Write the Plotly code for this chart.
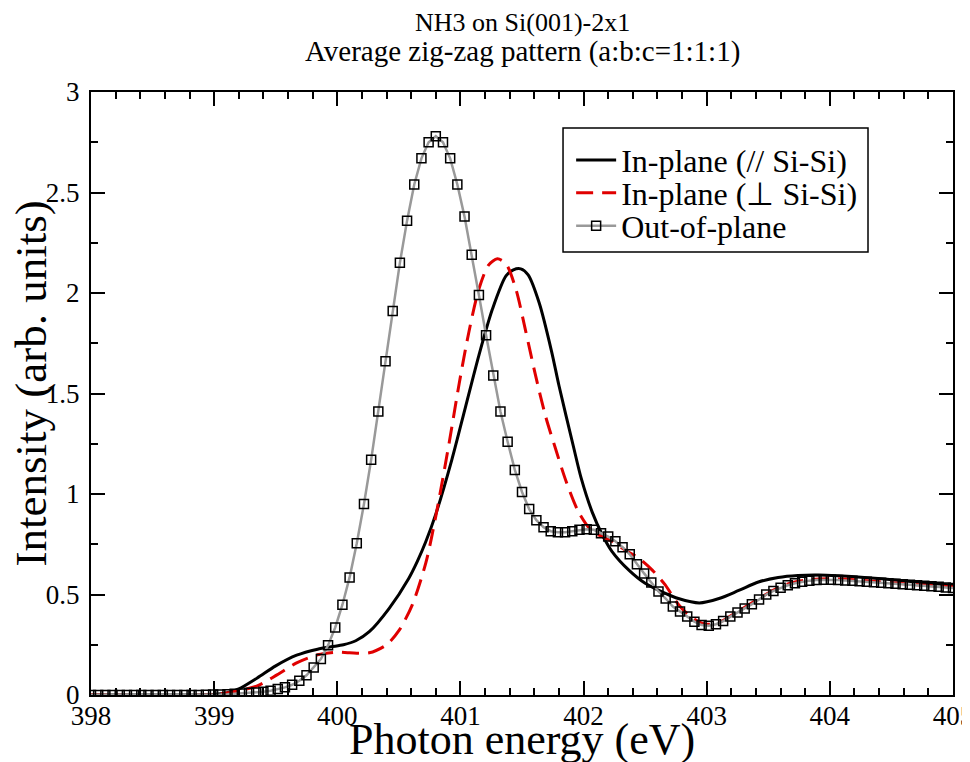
import numpy as np
import plotly.graph_objects as go

# ── Data ───────────────────────────────────────────────────────────────────
# out-of-plane spectrum: sampled on a 7/120 eV grid from 398 to 405 eV
OOP_ENERGY = np.round(np.linspace(398.0, 405.0, 121), 4)
OOP_INTENSITY = [
    0.0, 0.0, 0.0, 0.0, 0.0, 0.0, 0.0, 0.0, 0.0, 0.0,
    0.0, 0.0, 0.0, 0.0, 0.0, 0.0, 0.001, 0.002, 0.003, 0.004,
    0.006, 0.008, 0.011, 0.013, 0.016, 0.021, 0.030, 0.038, 0.051, 0.071,
    0.098, 0.137, 0.179, 0.247, 0.336, 0.449, 0.585, 0.755, 0.95, 1.17,
    1.41, 1.66, 1.91, 2.15, 2.36, 2.54, 2.67, 2.75, 2.78, 2.75,
    2.67, 2.54, 2.38, 2.19, 1.99, 1.79, 1.59, 1.41, 1.26, 1.12,
    1.01, 0.925, 0.87, 0.835, 0.815, 0.81, 0.81, 0.815, 0.822, 0.825,
    0.822, 0.805, 0.788, 0.765, 0.735, 0.70, 0.65, 0.605, 0.56, 0.515,
    0.48, 0.44, 0.415, 0.39, 0.365, 0.348, 0.345, 0.352, 0.368, 0.39,
    0.41, 0.43, 0.452, 0.475, 0.50, 0.518, 0.533, 0.546, 0.556, 0.564,
    0.569, 0.572, 0.573, 0.573, 0.572, 0.570, 0.568, 0.566, 0.563, 0.561,
    0.558, 0.556, 0.553, 0.551, 0.548, 0.546, 0.543, 0.541, 0.538, 0.535,
    0.532,
]

PAR_ENERGY = [
    398.0, 398.5, 399.0, 399.1, 399.2, 399.35, 399.5, 399.67, 399.84, 399.95,
    400.05, 400.15, 400.26, 400.42, 400.58, 400.65, 400.72, 400.8, 400.93, 401.04,
    401.15, 401.26, 401.37, 401.43, 401.49, 401.55, 401.64, 401.74, 401.8, 401.92,
    401.98, 402.07, 402.15, 402.23, 402.37, 402.5, 402.66, 402.77, 402.94, 403.1,
    403.26, 403.42, 403.58, 403.74, 403.91, 404.07, 404.28, 404.55, 404.82, 405.0,
]
PAR_INTENSITY = [
    0.0, 0.0, 0.003, 0.01, 0.03, 0.085, 0.145, 0.198, 0.228, 0.24,
    0.25, 0.27, 0.315, 0.43, 0.58, 0.665, 0.765, 0.90, 1.17, 1.43,
    1.69, 1.92, 2.085, 2.115, 2.12, 2.09, 1.95, 1.71, 1.54, 1.23,
    1.08, 0.91, 0.80, 0.715, 0.62, 0.556, 0.507, 0.48, 0.458, 0.48,
    0.52, 0.562, 0.585, 0.595, 0.597, 0.593, 0.585, 0.571, 0.556, 0.546,
]

PERP_ENERGY = [
    398.0, 399.0, 399.19, 399.35, 399.51, 399.67, 399.84, 400.0, 400.1, 400.26,
    400.4, 400.5, 400.61, 400.72, 400.8, 400.91, 400.99, 401.07, 401.15, 401.23,
    401.3, 401.37, 401.45, 401.53, 401.61, 401.69, 401.77, 401.86, 401.96, 402.07,
    402.23, 402.34, 402.45, 402.56, 402.66, 402.77, 402.85, 402.95, 403.0, 403.1,
    403.25, 403.4, 403.55, 403.7, 403.85, 404.0, 404.2, 404.4, 404.6, 404.8,
    405.0,
]
PERP_INTENSITY = [
    0.0, 0.002, 0.02, 0.045, 0.10, 0.16, 0.20, 0.213, 0.21, 0.21,
    0.25, 0.32, 0.45, 0.66, 0.89, 1.26, 1.55, 1.81, 2.02, 2.14,
    2.17, 2.145, 2.02, 1.81, 1.59, 1.39, 1.23, 1.06, 0.91, 0.815,
    0.765, 0.72, 0.68, 0.62, 0.55, 0.45, 0.40, 0.36, 0.352, 0.36,
    0.415, 0.47, 0.525, 0.56, 0.575, 0.578, 0.573, 0.563, 0.553, 0.545,
    0.537,
]

X_TICKS = [398, 399, 400, 401, 402, 403, 404, 405]
Y_TICKS = [0, 0.5, 1, 1.5, 2, 2.5, 3]
Y_TICK_LABELS = ["0", "0.5", "1", "1.5", "2", "2.5", "3"]

SERIF = "Liberation Serif, Times New Roman, serif"

fig = go.Figure()

fig.add_trace(go.Scatter(
    x=PAR_ENERGY, y=PAR_INTENSITY, mode="lines", name="In-plane (// Si-Si)",
    line=dict(color="black", width=3, shape="spline", smoothing=0.8),
    legend="legend", showlegend=True,
))
fig.add_trace(go.Scatter(
    x=PERP_ENERGY, y=PERP_INTENSITY, mode="lines", name="In-plane (\u22a5 Si-Si)",
    line=dict(color="#e00000", width=3, dash="17px,9px", shape="spline", smoothing=0.8),
    legend="legend2", showlegend=True,
))
fig.add_trace(go.Scatter(
    x=OOP_ENERGY, y=OOP_INTENSITY, mode="lines+markers", name="Out-of-plane",
    line=dict(color="#999999", width=2.5),
    marker=dict(symbol="square", size=9, color="rgba(255,255,255,0)",
                line=dict(color="black", width=1.5)),
    legend="legend3", showlegend=True,
))

axis_common = dict(
    showline=True, linecolor="black", linewidth=2, mirror="allticks",
    ticks="inside", ticklen=14, tickwidth=1.5, tickcolor="black",
    showgrid=False, zeroline=False, automargin=False,
    tickfont=dict(family=SERIF, size=27, color="black"),
)

fig.update_xaxes(
    range=[398, 405], tickvals=X_TICKS, ticklabeloverflow="allow", ticklabelstandoff=-4,
    minor=dict(dtick=0.2, ticks="inside", ticklen=7, tickwidth=1.5, tickcolor="black"),
    **axis_common,
)
fig.update_yaxes(
    range=[0, 3], tickvals=Y_TICKS, ticktext=Y_TICK_LABELS, ticklabelstandoff=4,
    minor=dict(dtick=0.25, ticks="inside", ticklen=7, tickwidth=1.5, tickcolor="black"),
    **axis_common,
)

# one legend per row so the row spacing can follow the reference
legend_style = dict(
    x=0.557, xanchor="left", yanchor="middle",
    bgcolor="rgba(0,0,0,0)", borderwidth=0,
    font=dict(family=SERIF, size=32, color="black"),
    itemwidth=40,
)

fig.update_layout(
    width=962, height=754,
    paper_bgcolor="white", plot_bgcolor="white",
    margin=dict(l=83, r=17, t=84, b=67),
    font=dict(family=SERIF, color="black"),
    showlegend=True,
    legend=dict(y=0.887, **legend_style),
    legend2=dict(y=0.8325, **legend_style),
    legend3=dict(y=0.778, **legend_style),
    shapes=[
        dict(type="rect", xref="paper", yref="paper", x0=0.5476, x1=0.9014, y0=0.7347, y1=0.9403,
             line=dict(color="black", width=1.5), fillcolor="rgba(0,0,0,0)", layer="below"),
    ],
    annotations=[
        dict(text="NH3 on Si(001)-2x1", x=0.5, y=1.0, xref="paper", yref="paper",
             yanchor="middle", yshift=70, showarrow=False,
             font=dict(family=SERIF, size=26, color="black")),
        dict(text="Average zig-zag pattern (a:b:c=1:1:1)", x=0.5, y=1.0, xref="paper", yref="paper",
             yanchor="middle", yshift=41, showarrow=False,
             font=dict(family=SERIF, size=29, color="black")),
        dict(text="Photon energy (eV)", x=0.5, y=0, xref="paper", yref="paper",
             yanchor="middle", yshift=-44, showarrow=False,
             font=dict(family=SERIF, size=44, color="black")),
        dict(text="Intensity (arb. units)", x=0, y=0.5, xref="paper", yref="paper",
             xanchor="center", yanchor="middle", xshift=-61, yshift=10, textangle=-90,
             showarrow=False, font=dict(family=SERIF, size=45, color="black")),
    ],
)

fig.write_html("out.html")
